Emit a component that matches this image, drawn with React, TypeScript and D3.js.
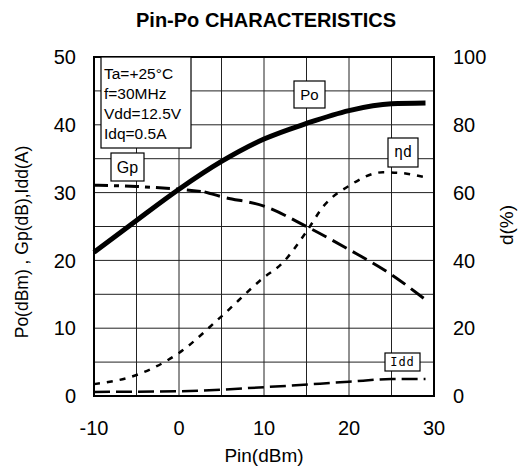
import * as d3 from "d3";

const W = 523;
const H = 468;

// x axis: Pin(dBm)
const xTicks = [-10, 0, 10, 20, 30];
const yTicks = [0, 10, 20, 30, 40, 50];
const y2Ticks = [0, 20, 40, 60, 80, 100];
const conditions = ["Ta=+25°C", "f=30MHz", "Vdd=12.5V", "Idq=0.5A"];

// Po (dBm), left axis
const poPin = [-10, -5, 0, 5, 10, 15, 20, 25, 29];
const poVal = [21.2, 25.9, 30.5, 34.6, 37.9, 40.2, 42.1, 43.1, 43.2];

// Gp (dB), left axis
const gpPin = [-10, -5, 0, 3, 5, 10, 15, 20, 25, 29];
const gpVal = [31.1, 30.9, 30.5, 30.1, 29.4, 28.0, 25.0, 21.6, 17.9, 14.2];

// ηd (%), right axis
const etaPin = [-10, -5, 0, 5, 10, 12, 15, 17, 20, 24, 26, 29];
const etaVal = [3.5, 6.2, 12.7, 23.5, 35, 38.8, 48.5, 56, 62, 66, 65.8, 64.5];

// Idd (A), left axis
const iddPin = [-10, 0, 10, 20, 25, 29];
const iddVal = [0.6, 0.7, 1.3, 2.1, 2.5, 2.5];

const font = "'Liberation Sans', Arial, sans-serif";
const mono = "'DejaVu Sans Mono', monospace";

export default function App() {
  const marginLeft = 94, marginRight = 89, marginTop = 57, marginBottom = 72;
  const x = d3.scaleLinear([-10, 30], [marginLeft, W - marginRight]);
  const y = d3.scaleLinear([0, 50], [H - marginBottom, marginTop]);
  const y2 = d3.scaleLinear([0, 100], [H - marginBottom, marginTop]);

  const lineL = (pins: number[], vals: number[]) =>
    d3.line<number>((_, i) => x(pins[i]), (d) => y(d)).curve(d3.curveMonotoneX)(vals) as string;
  const lineR = (pins: number[], vals: number[]) =>
    d3.line<number>((_, i) => x(pins[i]), (d) => y2(d)).curve(d3.curveMonotoneX)(vals) as string;

  const xGrid = d3.range(-5, 30, 5);
  const yGrid = d3.range(5, 50, 5);

  // Gp: dash-dot up to 3 dBm, long dash after
  const gpSplit = 4;

  return (
    <svg width={W} height={H} style={{ position: "absolute", left: 0, top: 0 }} fontFamily={font}>
      <rect width={W} height={H} fill="white" />
      <text x={266} y={27} textAnchor="middle" fontSize={20} fontWeight="bold">
        Pin-Po CHARACTERISTICS
      </text>

      <g stroke="#222" strokeWidth={1}>
        {xGrid.map((v) => (
          <line key={"gx" + v} x1={x(v)} x2={x(v)} y1={y(0)} y2={y(50)} />
        ))}
        {yGrid.map((v) => (
          <line key={"gy" + v} x1={x(-10)} x2={x(30)} y1={y(v)} y2={y(v)} />
        ))}
      </g>
      <rect x={x(-10)} y={y(50)} width={x(30) - x(-10)} height={y(0) - y(50)} fill="none" stroke="black" strokeWidth={2} />

      {yTicks.map((v) => (
        <text key={"yl" + v} x={76} y={y(v)} dy="0.36em" textAnchor="end" fontSize={20}>
          {v}
        </text>
      ))}
      {y2Ticks.map((v) => (
        <text key={"yr" + v} x={453} y={y2(v)} dy="0.36em" textAnchor="start" fontSize={20}>
          {v}
        </text>
      ))}
      {xTicks.map((v) => (
        <text key={"xl" + v} x={x(v)} y={435} textAnchor="middle" fontSize={20}>
          {v}
        </text>
      ))}
      <text x={x(10)} y={462} textAnchor="middle" fontSize={19}>
        Pin(dBm)
      </text>
      <text transform="translate(22,242) rotate(-90)" textAnchor="middle" dy="0.35em" fontSize={17.5}>
        Po(dBm) , Gp(dB),Idd(A)
      </text>
      <text transform="translate(506,225) rotate(-90)" textAnchor="middle" dy="0.35em" fontSize={19}>
        d(%)
      </text>

      {/* curves */}
      <path d={lineL(poPin, poVal)} fill="none" stroke="black" strokeWidth={5} />
      <path
        d={lineL(gpPin.slice(0, gpSplit), gpVal.slice(0, gpSplit))}
        fill="none" stroke="black" strokeWidth={3} strokeDasharray="14 6 5 6"
      />
      <path
        d={lineL(gpPin.slice(gpSplit - 1), gpVal.slice(gpSplit - 1))}
        fill="none" stroke="black" strokeWidth={3} strokeDasharray="16 7"
      />
      <path d={lineR(etaPin, etaVal)} fill="none" stroke="black" strokeWidth={2.5} strokeDasharray="6 7" />
      <path d={lineL(iddPin, iddVal)} fill="none" stroke="black" strokeWidth={2.5} strokeDasharray="16 6" />

      {/* condition box */}
      <rect x={101} y={57} width={90} height={91} fill="white" stroke="black" strokeWidth={1.2} />
      {conditions.map((c, i) => (
        <text key={c} x={104} y={73 + i * 20.3} dy="0.36em" fontSize={15.5}>
          {c}
        </text>
      ))}

      {/* curve labels */}
      <rect x={111} y={153} width={33} height={28} fill="white" stroke="black" strokeWidth={1.2} />
      <text x={127.5} y={167} dy="0.36em" textAnchor="middle" fontSize={16}>Gp</text>

      <rect x={294} y={81} width={31} height={27} fill="white" stroke="black" strokeWidth={1.2} />
      <text x={309.5} y={94.5} dy="0.36em" textAnchor="middle" fontSize={15}>Po</text>

      <rect x={388} y={138} width={30} height={29} fill="white" stroke="black" strokeWidth={1.2} />
      <text x={403} y={152} dy="0.36em" textAnchor="middle" fontSize={15} fontFamily={mono}>ηd</text>

      <rect x={385} y={353} width={35} height={18} fill="white" stroke="black" strokeWidth={1.2} />
      <text x={402.5} y={362} dy="0.36em" textAnchor="middle" fontSize={12} fontFamily={mono} letterSpacing={1}>Idd</text>
    </svg>
  );
}
